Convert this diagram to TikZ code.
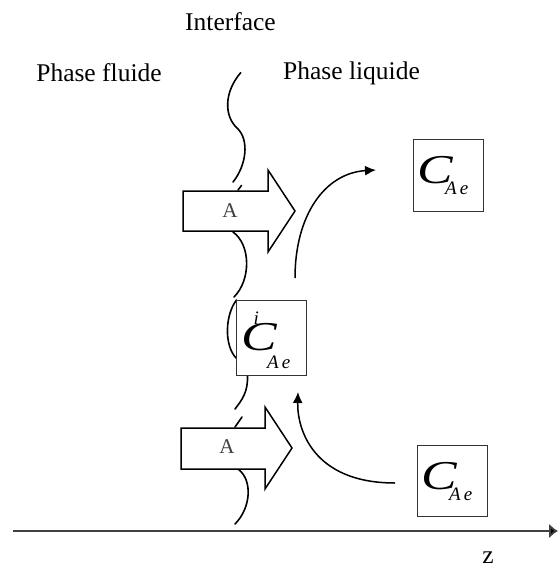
\documentclass[tikz,border=0pt]{standalone}
\usepackage{fontspec}
\setmainfont{Liberation Serif}
\usetikzlibrary{arrows.meta}
\newcommand{\bigC}{\rlap{\scalebox{1.3}[1]{C}}}
\newcommand{\subAe}[1]{\raisebox{#1}{\fontsize{19}{19}\selectfont A\hspace{3pt}e}}
\begin{document}
\begin{tikzpicture}[x=1pt,y=-1pt,
  wave/.style={line width=1.6pt, line cap=round},
  bigarrow/.style={draw=black, line width=1.5pt, fill=white, line join=miter},
  conc/.style={draw=black!80, line width=1pt, fill=white, inner sep=0pt, minimum width=70pt},
  lab/.style={font=\fontsize{25.5}{30}\selectfont, inner sep=0pt},
  alab/.style={font=\fontsize{21}{24}\selectfont, text=black!75, inner sep=0pt},
  flow/.style={line width=1.5pt, -{Latex[length=11pt,width=10pt]}},
  ctext/.style={inner sep=0pt, anchor=base west, font=\fontsize{41}{41}\selectfont\itshape},
  axis/.style={draw=black!75, line width=2pt, -{Latex[length=9pt,width=15pt,fill=black]}}
]
\useasboundingbox (0,0) rectangle (558,567);

% titles
\node[lab, anchor=base] (interface) at (230.5,31) {Interface};
\node[lab, anchor=base] (fluide) at (99,82) {Phase fluide};
\node[lab, anchor=base] (liquide) at (351.5,80) {Phase liquide};

% interface wavy line
\draw[wave] (240.7,72.7) .. controls (224,92) and (224,116) .. (237,128)
            .. controls (250,140) and (246,166) .. (233,182);
\draw[wave] (238,190) -- (241.5,185.5);
\draw[wave] (233,232) .. controls (251,245) and (251,280) .. (234,297);
\draw[wave] (236.5,300) .. controls (225,315) and (224,345) .. (236,358);
\draw[wave] (247.5,376) .. controls (248,392) and (242,400) .. (235,409);
\draw[wave] (235,427) -- (242,417);
\draw[wave] (238,469) .. controls (253,480) and (251,508) .. (235,524);

% transfer arrows
\draw[bigarrow] (183,191) -- (268,191) -- (268,170) -- (295,211) -- (268,252) -- (268,231) -- (183,231) -- cycle;
\node[alab] (a1) at (230,211) {A};
\draw[bigarrow] (181,428) -- (265,428) -- (265,407) -- (292,448) -- (265,489) -- (265,469) -- (181,469) -- cycle;
\node[alab] (a2) at (227,447) {A};

% concentration boxes
\node[conc, minimum height=72pt] (ctop) at (448,175) {};
\node[ctext] (ctoptxt) at (417.5,183) {\bigC\hspace{27.5pt}\subAe{-11pt}};
\node[conc, minimum height=75pt] (cmid) at (271,337.5) {};
\node[ctext] (cmidtxt) at (241.5,350) {\bigC\rlap{\hspace{12pt}\raisebox{26pt}{\fontsize{19}{19}\selectfont i}}\hspace{25.5pt}\subAe{-18pt}};
\node[conc, minimum height=71pt] (cbot) at (452,480.5) {};
\node[ctext] (cbottxt) at (421.5,489) {\bigC\hspace{27.5pt}\subAe{-11pt}};

% flow arrows
\coordinate (f1s) at (295,278);
\coordinate (f1e) at (376,170);
\draw[flow] (f1s) .. controls (295,215) and (325,173) .. (f1e);
\coordinate (f2s) at (395,483);
\coordinate (f2e) at (298,392);
\draw[flow] (f2s) .. controls (312,483) and (297,428) .. (f2e);

% axis
\coordinate (ax0) at (13,531);
\coordinate (ax1) at (558,531);
\draw[axis] (ax0) -- (ax1);
\node[lab, anchor=base] (z) at (488,563) {z};
\end{tikzpicture}
\end{document}
